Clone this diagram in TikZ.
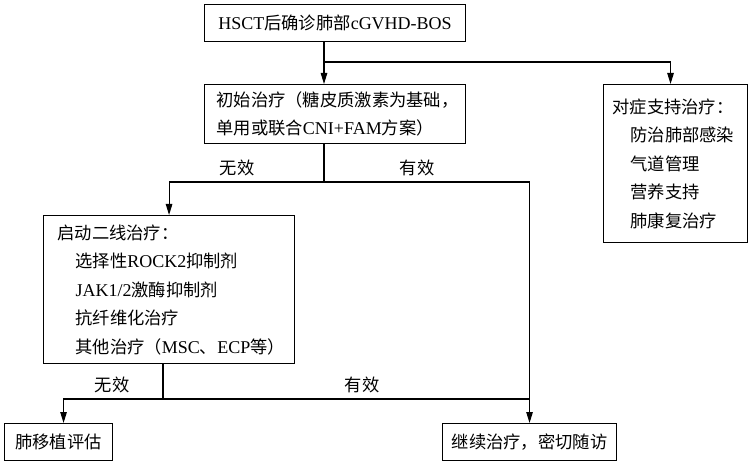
\documentclass[tikz,border=0pt]{standalone}
\usepackage{fontspec}
\setmainfont{Liberation Serif}
\newfontfamily\cjk[Scale=0.96]{Noto Sans CJK SC}
\usetikzlibrary{arrows.meta}

\tikzset{
  box/.style={draw, anchor=north west, inner ysep=0pt, align=left},
  arr/.style={-{Triangle[length=11pt,width=6.5pt]}},
  lab/.style={inner sep=0pt},
}

\begin{document}
\begin{tikzpicture}[x=1pt, y=-1pt, line width=1.1pt, font=\fontsize{18}{28.5}\selectfont]
  \useasboundingbox (0,0) rectangle (753,465);
  % 上方：确诊框，宽 261，高 37
  \node[box, align=center, inner xsep=0pt, minimum width=261pt, minimum height=37pt] (diag) at (204,4)
    {HSCT{\cjk 后确诊肺部}cGVHD-BOS};
  % 初始治疗
  \node[box, inner xsep=12pt, text width=237pt, minimum height=59pt] (init) at (204,84)
    {{\cjk 初始治疗（糖皮质激素为基础，}\\{\cjk 单用或联合}CNI+FAM{\cjk 方案）}};
  % 右侧：对症支持
  \node[box, inner xsep=9pt, text width=126pt, minimum height=158pt] (sup) at (603,84)
    {{\cjk 对症支持治疗：}\\
     \hspace*{18pt}{\cjk 防治肺部感染}\\
     \hspace*{18pt}{\cjk 气道管理}\\
     \hspace*{18pt}{\cjk 营养支持}\\
     \hspace*{18pt}{\cjk 肺康复治疗}};
  % 二线治疗
  \node[box, inner xsep=14pt, text width=223pt, minimum height=148pt] (second) at (43,215)
    {{\cjk 启动二线治疗：}\\
     \hspace*{18pt}{\cjk 选择性}ROCK2{\cjk 抑制剂}\\
     \hspace*{18pt}JAK1/2{\cjk 激酶抑制剂}\\
     \hspace*{18pt}{\cjk 抗纤维化治疗}\\
     \hspace*{18pt}{\cjk 其他治疗（}MSC{\cjk 、}ECP{\cjk 等）}};
  % 底部两框
  \node[box, align=center, inner xsep=0pt, minimum width=108pt, minimum height=37pt] (lung) at (4,423)
    {{\cjk 肺移植评估}};
  \node[box, align=center, inner xsep=0pt, minimum width=174pt, minimum height=37pt] (cont) at (442,423)
    {{\cjk 继续治疗，密切随访}};

  % 分支点
  \coordinate (j1) at (324,62);
  \coordinate (j2) at (324,182);
  \coordinate (j3) at (163,399);

  \draw[arr] (j1 |- diag.south) -- (j1 |- init.north);
  \draw[arr] (j1) -| ([xshift=-5pt]sup.north);
  \draw (j2 |- init.south) -- (j2);
  \draw[arr] (j2) -| (second.north);
  \draw[arr] (j2) -| (cont.north);
  \draw (j3 |- second.south) -- (j3);
  \draw[arr] (j3) -| ([xshift=5pt]lung.north);
  \draw (j3) -- (j3 -| cont.north);

  % 标注
  \node[lab] (no1) at (237,168) {\cjk 无效};
  \node[lab] (yes1) at (417,168) {\cjk 有效};
  \node[lab] (no2) at (112,385) {\cjk 无效};
  \node[lab] (yes2) at (362,385) {\cjk 有效};
\end{tikzpicture}
\end{document}
